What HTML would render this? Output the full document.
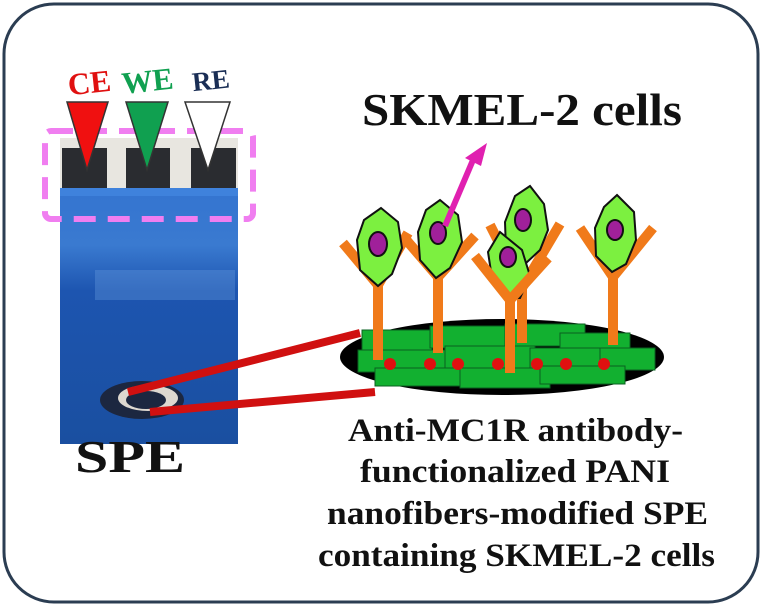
<!DOCTYPE html>
<html><head><meta charset="utf-8"><style>
body{margin:0;background:#fff;}
svg{display:block}
text{font-family:"Liberation Serif",serif;font-weight:bold;}
</style></head><body>
<svg width="762" height="608" viewBox="0 0 762 608">
<defs>
<linearGradient id="bl" x1="0" y1="0" x2="0" y2="1">
<stop offset="0" stop-color="#2f6fd0"/><stop offset="0.35" stop-color="#3a7ad0"/><stop offset="0.5" stop-color="#1d55b0"/><stop offset="1" stop-color="#1a4fa0"/>
</linearGradient>
</defs>
<rect x="4" y="4" width="754" height="598" rx="50" fill="#fff" stroke="#2b3d52" stroke-width="3"/>
<rect x="60" y="138" width="178" height="306" fill="url(#bl)"/>
<rect x="60" y="138" width="178" height="52" fill="#e8e6e0"/>
<rect x="62" y="148" width="45" height="42" fill="#2a2c30"/>
<rect x="126" y="148" width="44" height="42" fill="#2a2c30"/>
<rect x="191" y="148" width="45" height="42" fill="#2a2c30"/>
<rect x="60" y="188" width="178" height="8" fill="#3f82dc"/>
<rect x="95" y="270" width="140" height="30" fill="#6a9ee0" opacity="0.35"/>
<ellipse cx="142" cy="400" rx="42" ry="19" fill="#1c2740"/>
<ellipse cx="148" cy="398" rx="30" ry="13" fill="#ddd8d0"/>
<ellipse cx="146" cy="400" rx="20" ry="9" fill="#1c2740"/>
<rect x="45" y="131" width="208" height="88" rx="6" fill="none" stroke="#f07ef0" stroke-width="6" stroke-dasharray="22,12"/>
<polygon points="67,102 108,102 87,170" fill="#f01010" stroke="#333" stroke-width="1.5"/>
<polygon points="126,102 168,102 147,170" fill="#10a050" stroke="#333" stroke-width="1.5"/>
<polygon points="185,102 230,102 208,170" fill="#fff" stroke="#333" stroke-width="1.5"/>
<text x="68" y="94" font-family="Liberation Sans,sans-serif" font-size="31" fill="#e01010" transform="rotate(-6 80 85)">CE</text>
<text x="122" y="92" font-family="Liberation Sans,sans-serif" font-size="31" fill="#10a050" transform="rotate(-6 140 85)">WE</text>
<text x="192" y="90" font-family="Liberation Sans,sans-serif" font-size="27" fill="#1a2e55" transform="rotate(-6 205 80)">RE</text>
<text x="75" y="472" font-size="46" fill="#111" textLength="110" lengthAdjust="spacingAndGlyphs">SPE</text>
<ellipse cx="502" cy="357" rx="162" ry="38" fill="#000"/>
<g fill="#12b030" stroke="#0a6020" stroke-width="1">
<rect x="362" y="330" width="70" height="20"/><rect x="430" y="326" width="80" height="22"/><rect x="505" y="324" width="80" height="22"/><rect x="560" y="333" width="70" height="20"/>
<rect x="358" y="350" width="90" height="22"/><rect x="445" y="346" width="90" height="24"/><rect x="530" y="348" width="90" height="22"/><rect x="600" y="348" width="55" height="22"/>
<rect x="375" y="368" width="90" height="18"/><rect x="460" y="368" width="90" height="20"/><rect x="540" y="366" width="85" height="18"/>
</g>
<line x1="128" y1="392" x2="360" y2="333" stroke="#d01010" stroke-width="8"/>
<line x1="150" y1="412" x2="375" y2="392" stroke="#d01010" stroke-width="8"/>
<g fill="#e01010"><circle cx="390" cy="364" r="6"/><circle cx="430" cy="364" r="6"/><circle cx="458" cy="364" r="6"/><circle cx="498" cy="364" r="6"/><circle cx="537" cy="364" r="6"/><circle cx="566" cy="364" r="6"/><circle cx="604" cy="364" r="6"/></g>
<g stroke="#f07a1a" stroke-width="10" fill="none">
<path d="M522 343 V283 M522 288 L490 225 M522 288 L560 224"/>
<path d="M378 360 V283 M378 285 L343 243 M378 285 L408 233"/>
<path d="M438 353 V275 M438 277 L402 235 M438 277 L475 236"/>
<path d="M613 345 V275 M613 277 L580 228 M613 277 L653 228"/>
</g>
<g stroke="#111" stroke-width="2">
<path d="M381 208 L398 222 L402 248 L392 274 L378 286 L360 270 L357 240 L364 220 Z" fill="#7cf040"/>
<ellipse cx="378" cy="244" rx="9" ry="12" fill="#a0209a"/>
<path d="M440 200 L458 215 L462 242 L450 268 L436 278 L420 260 L418 232 L426 210 Z" fill="#7cf040"/>
<ellipse cx="438" cy="233" rx="8" ry="11" fill="#a0209a"/>
<path d="M530 186 L544 204 L548 230 L540 250 L525 264 L506 250 L505 222 L515 196 Z" fill="#7cf040"/>
<ellipse cx="523" cy="220" rx="8" ry="11" fill="#a0209a"/>
<path d="M500 232 L522 250 L530 276 L520 298 L510 298 L492 278 L488 252 Z" fill="#7cf040"/>
<ellipse cx="508" cy="257" rx="8" ry="10" fill="#a0209a"/>
<path d="M617 195 L634 212 L636 240 L626 264 L612 272 L596 256 L595 228 L604 207 Z" fill="#7cf040"/>
<ellipse cx="615" cy="230" rx="8" ry="10" fill="#a0209a"/>
</g>
<g stroke="#f07a1a" stroke-width="10" fill="none"><line x1="510" y1="373" x2="510" y2="300"/><path d="M510 300 L475 256 M510 300 L548 258"/></g>
<line x1="445" y1="226" x2="473" y2="160" stroke="#e020b0" stroke-width="6"/>
<polygon points="487,143 465,158 481,166" fill="#e020b0"/>
<text x="362" y="125" font-size="46" fill="#111" textLength="320" lengthAdjust="spacingAndGlyphs">SKMEL-2 cells</text>
<g font-size="33" fill="#111">
<text x="348" y="441" textLength="335" lengthAdjust="spacingAndGlyphs">Anti-MC1R antibody-</text>
<text x="360" y="482" textLength="310" lengthAdjust="spacingAndGlyphs">functionalized  PANI</text>
<text x="327" y="524" textLength="381" lengthAdjust="spacingAndGlyphs">nanofibers-modified  SPE</text>
<text x="318" y="566" textLength="397" lengthAdjust="spacingAndGlyphs">containing  SKMEL-2 cells</text>
</g>
</svg>
</body></html>
